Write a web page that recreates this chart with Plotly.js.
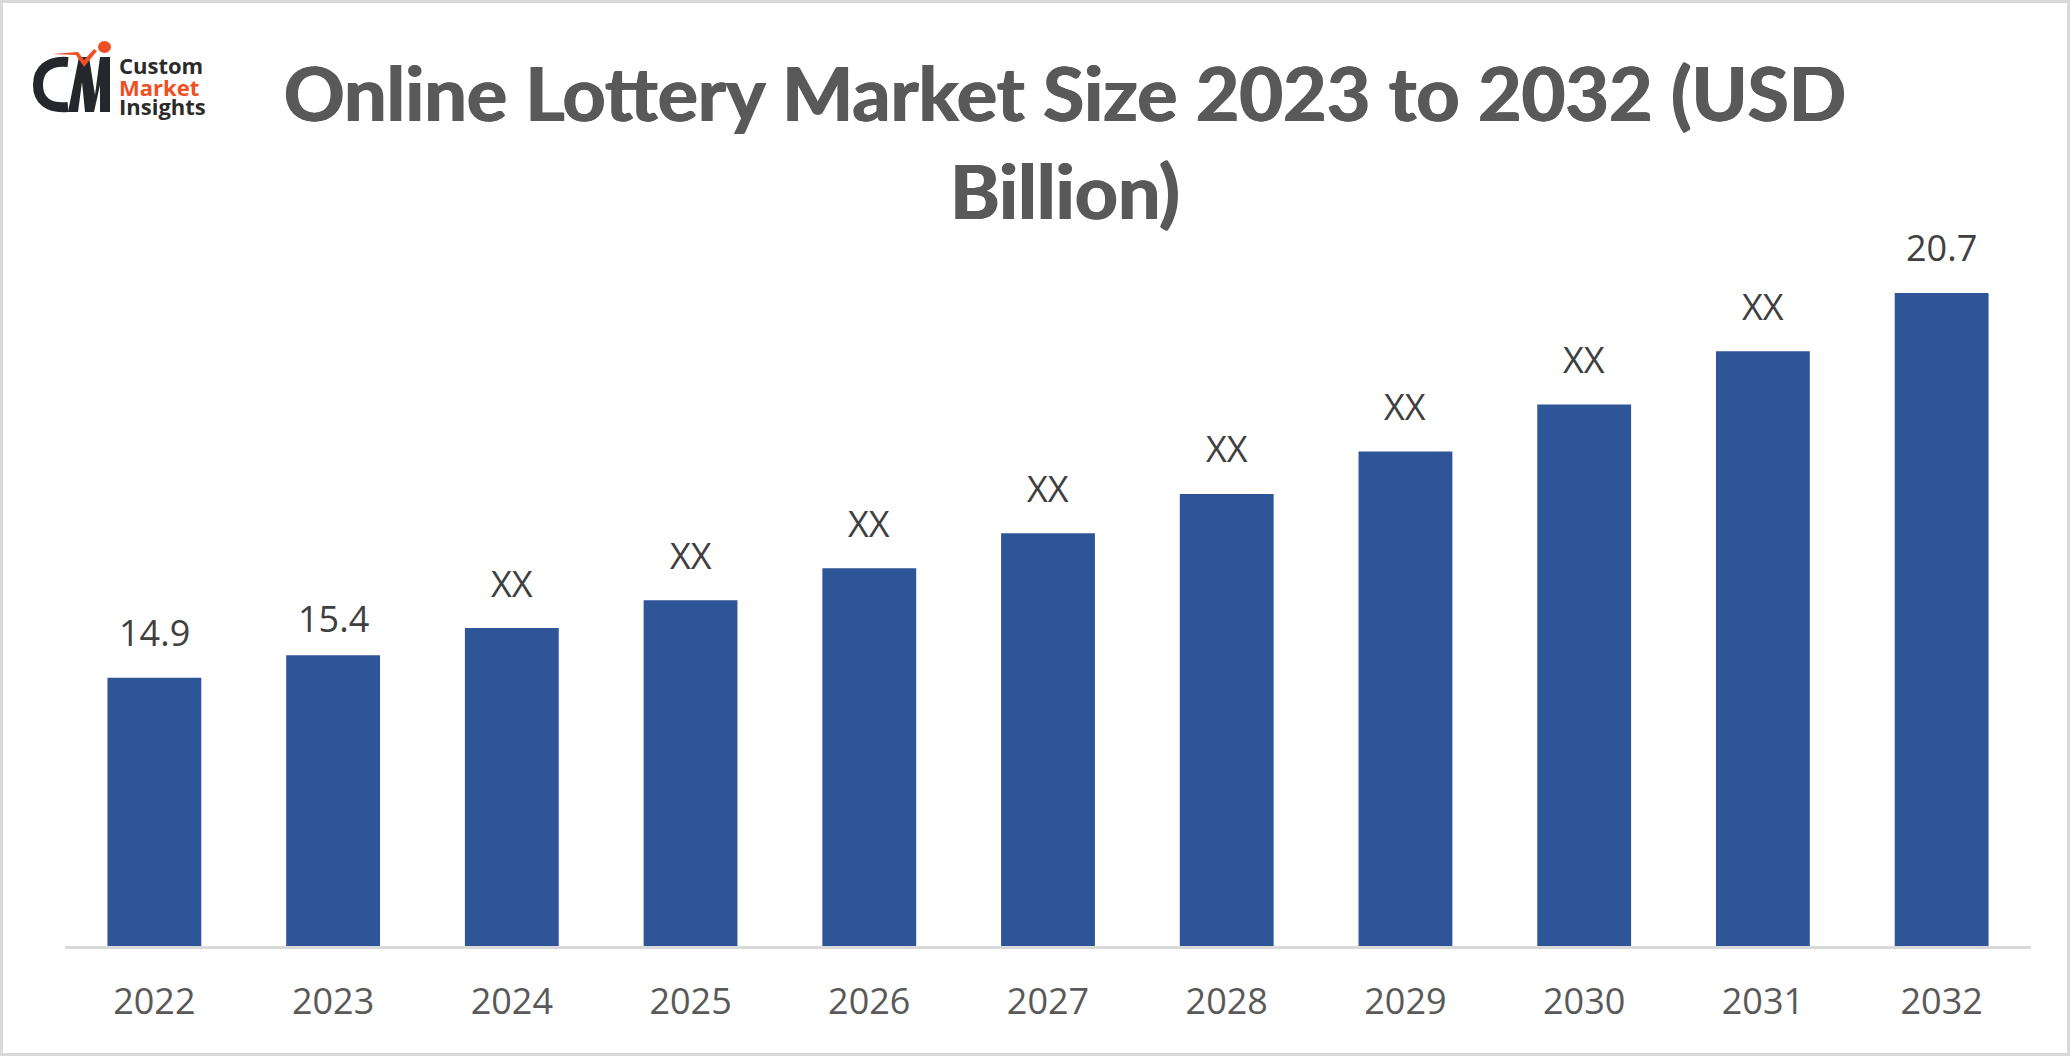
<!DOCTYPE html>
<html>
<head>
<meta charset="utf-8">
<script src="https://cdn.plot.ly/plotly-3.0.1.min.js"></script>
<style>
  html, body { margin: 0; padding: 0; background: #fff; }
</style>
</head>
<body>
<div id="chart" style="width:2070px;height:1056px"></div>
<script>
// values (the value axis is cut, it does not start at zero)
const years = ['2022', '2023', '2024', '2025', '2026', '2027', '2028', '2029', '2030', '2031', '2032'];
const barValues = [14.9, 15.24, 15.65, 16.07, 16.55, 17.08, 17.67, 18.31, 19.02, 19.82, 20.7];
const barLabels = ['14.9', '15.4', 'XX', 'XX', 'XX', 'XX', 'XX', 'XX', 'XX', 'XX', '20.7'];

const W = 2070, H = 1056;
const margin = { l: 65, r: 39, t: 190, b: 110 };
const plotW = W - margin.l - margin.r;
const plotH = H - margin.t - margin.b;

// page pixels to paper coordinates, for the frame and logo
const px = x => (x - margin.l) / plotW;
const py = y => (H - margin.b - y) / plotH;
const pt = p => px(p[0]) + ',' + py(p[1]);
function pathFrom(points) {
    return points.map((p, i) => (i === 0 ? 'M' : 'L') + pt(p)).join(' ') + ' Z';
}

const textFont = 'Open Sans, sans-serif';

const barTrace = {
    type: 'bar',
    x: years,
    y: barValues,
    width: 0.525,
    marker: { color: '#2e5597' },
    hoverinfo: 'x+y'
};

// the 15.4 label sits closer to its bar than the others
const labelAnnotations = years.map((year, i) => ({
    x: i, y: barValues[i], xref: 'x', yref: 'y',
    text: barLabels[i], showarrow: false,
    yanchor: 'bottom', yshift: i === 1 ? 10 : 18.5,
    font: { family: textFont, size: 36, color: '#404040' }
}));

const logoTexts = [
    { text: 'Custom', y: 65, color: '#2b2b2b' },
    { text: 'Market', y: 87, color: '#f04e23' },
    { text: 'Insights', y: 106, color: '#2b2b2b' }
].map(t => ({
    x: px(117), y: py(t.y), xref: 'paper', yref: 'paper',
    xanchor: 'left', yanchor: 'middle', showarrow: false,
    text: '<b>' + t.text + '</b>',
    font: { family: textFont, size: 22, color: t.color }
}));

const logoShapes = [
    // C
    {
        type: 'path', xref: 'paper', yref: 'paper',
        path: 'M' + pt([68, 62]) + ' C' + pt([48, 60]) + ' ' + pt([38, 70]) + ' ' + pt([38, 85]) +
            ' C' + pt([38, 100]) + ' ' + pt([48, 109]) + ' ' + pt([68, 107]),
        fillcolor: 'rgba(0,0,0,0)', line: { color: '#24282c', width: 10 }
    },
    // V and stem
    {
        type: 'path', xref: 'paper', yref: 'paper',
        path: pathFrom([[68, 112], [79, 57], [89, 57], [95, 95], [100, 57], [110, 57], [110, 112], [100, 112], [100, 85], [94, 112], [85, 112], [82, 82], [78, 112]]),
        fillcolor: '#24282c', line: { width: 0 }
    },
    // orange swoosh
    {
        type: 'path', xref: 'paper', yref: 'paper',
        path: pathFrom([[52, 54], [78, 52], [84, 60], [94, 49], [97, 51], [84, 67], [76, 55]]),
        fillcolor: '#f04e23', line: { width: 0 }
    },
    {
        type: 'circle', xref: 'paper', yref: 'paper',
        x0: px(98), x1: px(111), y0: py(53), y1: py(41),
        fillcolor: '#f04e23', line: { width: 0 }
    }
];

const frame = {
    type: 'rect', xref: 'paper', yref: 'paper',
    x0: px(1.5), x1: px(2068.5), y0: py(1054.5), y1: py(1.5),
    fillcolor: 'rgba(0,0,0,0)', line: { color: '#d9d9d9', width: 3 }
};

const layout = {
    width: W,
    height: H,
    margin: margin,
    paper_bgcolor: '#ffffff',
    plot_bgcolor: '#ffffff',
    showlegend: false,
    title: {
        text: '<b>Online Lottery Market Size 2023 to 2032 (USD<br>Billion)</b>',
        x: 1065 / W, xanchor: 'center',
        y: 1 - 121 / H, yanchor: 'middle',
        font: {
            family: 'Lato, sans-serif', size: 75.3, color: '#595959',
            shadow: '0.8px 0 0 #595959, -0.8px 0 0 #595959'
        }
    },
    xaxis: {
        type: 'category',
        range: [-0.5, 10.5],
        showgrid: false,
        showline: true,
        linecolor: '#d9d9d9',
        linewidth: 3,
        ticks: '',
        ticklabelstandoff: 22,
        tickfont: { family: textFont, size: 36, color: '#595959' }
    },
    yaxis: {
        range: [10.86, 22.25],
        visible: false,
        showgrid: false,
        zeroline: false
    },
    annotations: labelAnnotations.concat(logoTexts),
    shapes: [frame].concat(logoShapes)
};

Plotly.newPlot('chart', [barTrace], layout, { displayModeBar: false });
</script>
</body>
</html>
